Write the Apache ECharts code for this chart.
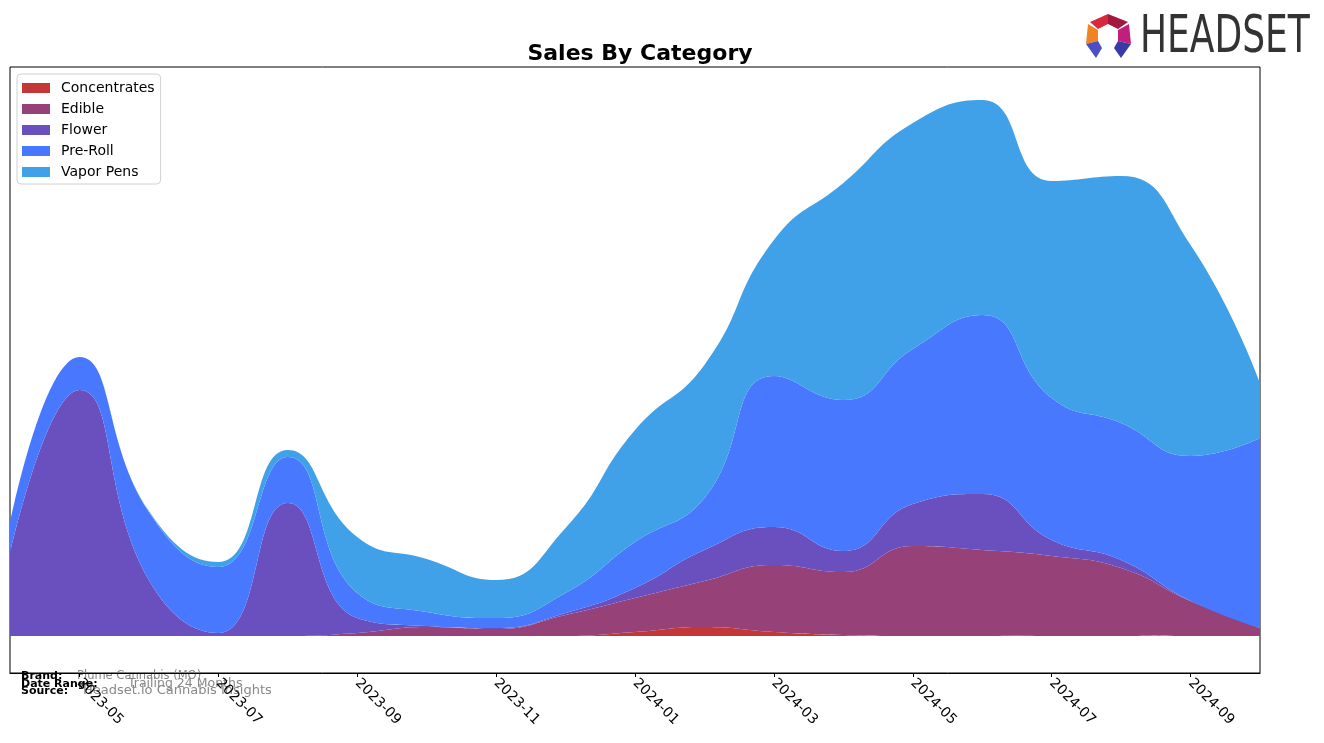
<!DOCTYPE html>
<html>
<head>
<meta charset="utf-8">
<title>Sales By Category</title>
<script src="https://cdn.jsdelivr.net/npm/echarts@6/dist/echarts.min.js"></script>
<style>
  html, body { margin: 0; padding: 0; background: #fff; }
  #chart { width: 1324px; height: 743px; }
</style>
</head>
<body>
<div id="chart"></div>
<script>
// monthly values (arbitrary sales units)
const months = ['2023-04', '2023-05', '2023-06', '2023-07', '2023-08', '2023-09', '2023-10',
  '2023-11', '2023-12', '2024-01', '2024-02', '2024-03', '2024-04', '2024-05', '2024-06',
  '2024-07', '2024-08', '2024-09', '2024-10']
const concentrates = [0, 0, 0, 0, 0, 0, 0, 0, 0, 4, 9, 4, 1, 0, 0, 1, 1, 0, 0]
const edible = [0, 0, 0, 0, 0, 3, 9, 7, 21, 34, 46, 67, 63, 90, 86, 79, 67, 35, 8]
const flower = [83, 246, 56, 3, 133, 15, 1, 1, 2, 10, 31, 38, 21, 42, 56, 16, 8, 0, 0]
const preRoll = [30, 33, 68, 66, 46, 25, 14, 10, 20, 46, 52, 151, 151, 155, 179, 142, 137, 145, 190]
const vaporPens = [0, 0, 1, 5, 7, 56, 53, 38, 65, 112, 133, 136, 217, 226, 215, 217, 247, 211, 55]

const seriesNames = ['Concentrates', 'Edible', 'Flower', 'Pre-Roll', 'Vapor Pens']
const seriesData = [concentrates, edible, flower, preRoll, vaporPens]
const colors = ['#c43737', '#964278', '#6a4fbf', '#4878fe', '#40a0e8']

const chart = echarts.init(document.getElementById('chart'))

// only every other month gets a tick, starting at 2023-05
const everyOther = function (index) {
  return index % 2 === 1
}

chart.setOption({
  animation: false,
  color: colors,
  title: {
    text: 'Sales By Category',
    left: 635,
    top: 38,
    textAlign: 'center',
    textStyle: {
      fontFamily: 'DejaVu Sans',
      fontSize: 22,
      fontWeight: 'bold',
      color: '#000'
    }
  },
  legend: {
    orient: 'vertical',
    left: 17,
    top: 74,
    padding: [7, 6, 5, 5],
    itemWidth: 28,
    itemHeight: 10,
    itemGap: 7,
    icon: 'rect',
    borderColor: '#d0d0d0',
    borderWidth: 1,
    borderRadius: 4,
    backgroundColor: 'rgba(255,255,255,0.8)',
    textStyle: {
      fontFamily: 'DejaVu Sans',
      fontSize: 14,
      lineHeight: 14,
      color: '#000',
      padding: [0, 0, 0, 6]
    },
    data: seriesNames
  },
  grid: {
    left: 10,
    right: 64,
    top: 67,
    bottom: 70,
    show: true,
    borderColor: '#000',
    borderWidth: 1
  },
  xAxis: {
    type: 'category',
    boundaryGap: false,
    data: months,
    axisLine: {
      onZero: false,
      lineStyle: { color: '#000' }
    },
    axisTick: {
      interval: everyOther,
      length: 4,
      lineStyle: { color: '#000' }
    },
    axisLabel: {
      interval: everyOther,
      rotate: -45,
      margin: 8,
      fontFamily: 'DejaVu Sans',
      fontSize: 14,
      color: '#000'
    }
  },
  yAxis: {
    type: 'value',
    min: -37,
    max: 569,
    axisLine: { show: false },
    axisTick: { show: false },
    axisLabel: { show: false },
    splitLine: { show: false }
  },
  series: seriesNames.map(function (name, i) {
    return {
      name: name,
      type: 'line',
      stack: 'total',
      smooth: 0.5,
      showSymbol: false,
      lineStyle: { width: 0 },
      areaStyle: { color: colors[i], opacity: 1 },
      data: seriesData[i]
    }
  }),
  graphic: [
    // footer notes
    { type: 'text', left: 21, top: 671, style: { text: 'Brand:', font: 'bold 11px "DejaVu Sans"', fill: '#000' } },
    { type: 'text', left: 77, top: 670, style: { text: 'Plume Cannabis (MO)', font: '11.5px "DejaVu Sans"', fill: '#888' } },
    { type: 'text', left: 21, top: 679, style: { text: 'Date Range:', font: 'bold 11px "DejaVu Sans"', fill: '#000' } },
    { type: 'text', left: 128, top: 677, style: { text: 'Trailing 24 Months', font: '12.5px "DejaVu Sans"', fill: '#888' } },
    { type: 'text', left: 21, top: 686, style: { text: 'Source:', font: 'bold 11px "DejaVu Sans"', fill: '#000' } },
    { type: 'text', left: 83, top: 684, style: { text: 'Headset.io Cannabis Insights', font: '13px "DejaVu Sans"', fill: '#888' } },
    // HEADSET logo
    { type: 'polygon', shape: { points: [[1090, 22], [1108, 14], [1108, 24], [1098, 29]] }, style: { fill: '#d8283e' } },
    { type: 'polygon', shape: { points: [[1108, 14], [1128, 22], [1118, 29], [1108, 24]] }, style: { fill: '#a3183e' } },
    { type: 'polygon', shape: { points: [[1088, 24], [1098, 30], [1098, 41], [1086, 44]] }, style: { fill: '#f08424' } },
    { type: 'polygon', shape: { points: [[1129, 24], [1118, 30], [1118, 41], [1131, 44]] }, style: { fill: '#c0207c' } },
    { type: 'polygon', shape: { points: [[1086, 44], [1098, 41], [1102, 48], [1096, 58]] }, style: { fill: '#4c4fc4' } },
    { type: 'polygon', shape: { points: [[1131, 44], [1118, 41], [1114, 48], [1121, 58]] }, style: { fill: '#3a3aa6' } },
    {
      type: 'text',
      left: 1140,
      top: 12,
      scaleX: 0.77,
      style: { text: 'HEADSET', font: '52px "Liberation Sans Narrow", "DejaVu Sans Condensed", sans-serif', fill: '#333' }
    }
  ]
})
</script>
</body>
</html>
